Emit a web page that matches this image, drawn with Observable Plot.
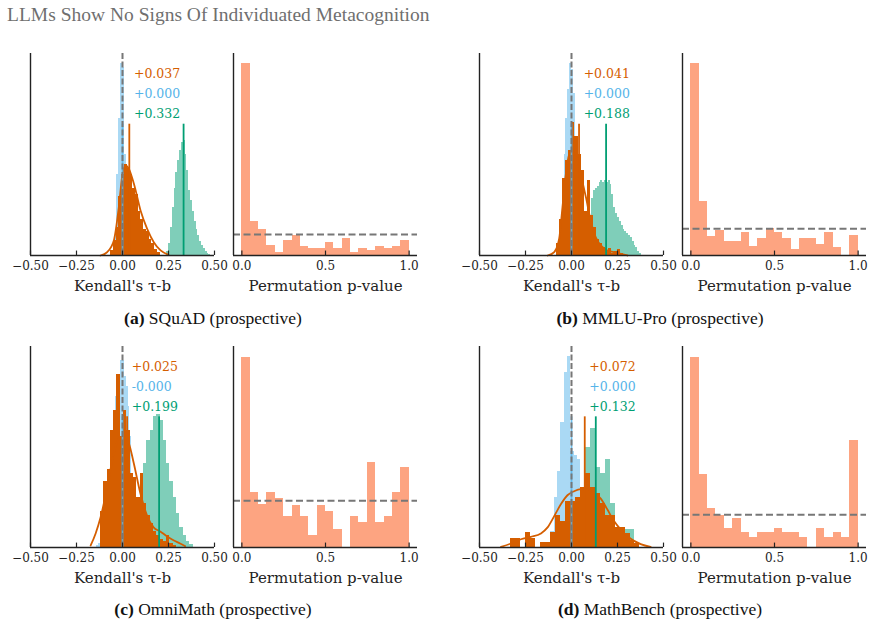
<!DOCTYPE html>
<html><head><meta charset="utf-8">
<script src="https://cdn.jsdelivr.net/npm/d3@7"></script>
<script src="https://cdn.jsdelivr.net/npm/@observablehq/plot@0.6"></script>
<style>
body{margin:0;background:#fff;}
#fig{position:relative;width:874px;height:629px;overflow:hidden;background:#fff;}
.title{position:absolute;left:7px;top:4.7px;font-family:"Liberation Serif",serif;font-size:19.5px;color:#6f6f6f;line-height:1;white-space:nowrap;}
.cap{position:absolute;width:400px;text-align:center;font-family:"Liberation Serif",serif;font-size:17.5px;line-height:1;color:#111;white-space:nowrap;}
</style></head><body><div id="fig"></div><script>
// ---------- data ----------
const chartTitle = "LLMs Show No Signs Of Individuated Metacognition";
const panelLetters = ["(a)", "(b)", "(c)", "(d)"];
const panelNames = ["SQuAD (prospective)", "MMLU-Pro (prospective)", "OmniMath (prospective)", "MathBench (prospective)"];
const kendallLabel = "Kendall's τ-b";
const pLabel = "Permutation p-value";

const kendallTicks = [-0.5, -0.25, 0, 0.25, 0.5];
const kendallTickLabels = ["−0.50", "−0.25", "0.00", "0.25", "0.50"];
const pTicks = [0, 0.5, 1];
const pTickLabels = ["0.0", "0.5", "1.0"];

const orangeMeans = [0.037, 0.041, 0.025, 0.072];
const blueMeans = [0.000, 0.000, -0.000, 0.000];
const greenMeans = [0.332, 0.188, 0.199, 0.132];
const orangeLabels = ["+0.037", "+0.041", "+0.025", "+0.072"];
const blueLabels = ["+0.000", "+0.000", "-0.000", "+0.000"];
const greenLabels = ["+0.332", "+0.188", "+0.199", "+0.132"];

// Kendall histograms: bin start, bin width, heights (fraction of axis height)
const blueStart = [-0.04, -0.07, -0.14, -0.13];
const blueWidth = [0.01, 0.01, 0.01, 0.018];
const blueA = [0.1, 0.4, 0.68, 0.95, 0.93, 0.5, 0.15, 0.03];
const blueB = [0.04, 0.12, 0.3, 0.5, 0.68, 0.82, 0.95, 0.92, 0.8, 0.55, 0.3, 0.12, 0.04];
const blueC = [0.01, 0.02, 0.04, 0.07, 0.1, 0.15, 0.22, 0.32, 0.45, 0.6, 0.75, 0.82, 0.85, 0.93, 0.93, 0.85, 0.8, 0.7, 0.55, 0.35, 0.18, 0.07, 0.02];
const blueD = [0.02, 0.08, 0.25, 0.38, 0.62, 0.87, 0.95, 0.48, 0.46, 0.44, 0.3, 0.15, 0.05];

const orangeStart = [-0.065, -0.08, -0.12, -0.33];
const orangeWidth = [0.015, 0.0165, 0.018, 0.027];
const orangeA = [0.025, 0.075, 0.14, 0.29, 0.40, 0.45, 0.43, 0.40, 0.33, 0.30, 0.22, 0.18, 0.13, 0.12, 0.08, 0.06, 0.03, 0.015];
const orangeB = [0.06, 0.18, 0.38, 0.47, 0.52, 0.66, 0.59, 0.5, 0.42, 0.22, 0.37, 0.2, 0.14, 0.08, 0.06, 0.04, 0.025, 0.033, 0.01, 0.02, 0.028, 0.01];
const orangeC = [0.18, 0.33, 0.39, 0.58, 0.68, 0.86, 0.55, 0.68, 0.58, 0.37, 0.35, 0.25, 0.37, 0.22, 0.16, 0.12, 0.08, 0.06, 0.04, 0.03, 0.06, 0.02, 0.01];
const orangeD = [0.045, 0.045, 0, 0.076, 0.045, 0, 0.023, 0.023, 0.076, 0.16, 0.13, 0.23, 0.23, 0.25, 0.3, 0.37, 0.3, 0.27, 0.22, 0.16, 0.16, 0.1, 0.1, 0.07, 0.036, 0.02];

const greenStart = [0.24, 0.10, 0.06, -0.006];
const greenWidth = [0.01, 0.01, 0.018, 0.027];
const greenA = [0.02, 0.06, 0.14, 0.24, 0.33, 0.41, 0.47, 0.52, 0.56, 0.57, 0.5, 0.42, 0.32, 0.27, 0.22, 0.17, 0.13, 0.1, 0.07, 0.05, 0.035, 0.02, 0.012, 0.005];
const greenB = [0.08, 0.28, 0.32, 0.33, 0.34, 0.36, 0.37, 0.36, 0.37, 0.36, 0.37, 0.35, 0.3, 0.24, 0.21, 0.19, 0.17, 0.15, 0.13, 0.12, 0.11, 0.1, 0.09, 0.07, 0.05, 0.04, 0.02, 0.01];
const greenC = [0.08, 0.25, 0.37, 0.42, 0.53, 0.58, 0.65, 0.66, 0.63, 0.53, 0.42, 0.33, 0.25, 0.17, 0.1, 0.06, 0.03, 0.015];
const greenD = [0.12, 0.2, 0.22, 0.5, 0.59, 0.4, 0.37, 0.44, 0.22, 0.09, 0.07, 0.09, 0.09];

// orange KDE curves (tau, fraction of axis height)
const kdeXA = [-0.12, -0.083, -0.047, -0.02, -0.002, 0.016, 0.034, 0.062, 0.098, 0.134, 0.17, 0.207, 0.25];
const kdeYA = [0.0, 0.017, 0.074, 0.24, 0.39, 0.446, 0.43, 0.355, 0.223, 0.132, 0.066, 0.025, 0.003];
const kdeXB = [-0.13, -0.094, -0.067, -0.049, -0.031, -0.013, 0.002, 0.024, 0.05, 0.078, 0.105, 0.132, 0.159, 0.195, 0.23, 0.268, 0.304];
const kdeYB = [0.0, 0.017, 0.083, 0.24, 0.4, 0.5, 0.52, 0.49, 0.4, 0.29, 0.17, 0.09, 0.05, 0.025, 0.017, 0.008, 0.0];
const kdeXC = [-0.173, -0.146, -0.119, -0.083, -0.047, -0.02, 0.007, 0.034, 0.061, 0.097, 0.133, 0.169, 0.205, 0.241, 0.277, 0.313, 0.34];
const kdeYC = [0.01, 0.07, 0.15, 0.3, 0.47, 0.54, 0.55, 0.52, 0.42, 0.27, 0.16, 0.1, 0.08, 0.056, 0.036, 0.02, 0.007];
const kdeXD = [-0.383, -0.329, -0.275, -0.221, -0.166, -0.13, -0.094, -0.058, -0.022, 0.014, 0.051, 0.087, 0.123, 0.159, 0.195, 0.231, 0.268, 0.304, 0.34, 0.376, 0.43];
const kdeYD = [0.003, 0.02, 0.041, 0.053, 0.07, 0.1, 0.156, 0.215, 0.26, 0.28, 0.29, 0.288, 0.273, 0.243, 0.189, 0.132, 0.089, 0.056, 0.033, 0.017, 0.003];

// permutation p-value histograms (20 bins of 0.05, fraction of axis height)
const pBinWidth = 0.05;
const pA = [0.95, 0.17, 0.13, 0.05, 0.015, 0.074, 0.1, 0.046, 0.036, 0.036, 0.063, 0.036, 0.083, 0.015, 0.036, 0.025, 0.046, 0.036, 0.046, 0.074];
const pB = [0.95, 0.268, 0.096, 0.124, 0.071, 0.071, 0.112, 0.045, 0.083, 0.136, 0.112, 0.083, 0.028, 0.083, 0.083, 0.055, 0.112, 0.041, 0, 0.099];
const pC = [0.947, 0.272, 0.215, 0.272, 0.243, 0.152, 0.21, 0.152, 0.058, 0.21, 0.18, 0.089, 0, 0.152, 0.123, 0.425, 0.123, 0.152, 0.272, 0.396];
const pD = [0.947, 0.364, 0.194, 0.161, 0.094, 0.144, 0.073, 0.048, 0.073, 0.073, 0.094, 0.073, 0.073, 0.048, 0, 0.094, 0.048, 0.073, 0.048, 0.533];

// ---------- styling / layout ----------
const ORANGE = "#d55e00", BLUE = "#56b4e9", GREEN = "#009e73", SALMON = "#fda481", AX = "#222";
const FONT = "DejaVu Serif";
const rowTop = [53, 346], rowH = [202, 201];
const kLeft = [30, 478.5], pLeft = [232.5, 682], axW = 184;
const M = {l: 45, r: 45, t: 12, b: 50};
const capCenter = [213, 660], capBaseline = [325, 616];

const blues = [blueA, blueB, blueC, blueD];
const oranges = [orangeA, orangeB, orangeC, orangeD];
const greens = [greenA, greenB, greenC, greenD];
const kdeX = [kdeXA, kdeXB, kdeXC, kdeXD], kdeY = [kdeYA, kdeYB, kdeYC, kdeYD];
const pvals = [pA, pB, pC, pD];

const fig = document.getElementById("fig");
const bins = (start, w, hs) => hs.map((h, i) => ({x1: start + i * w, x2: start + (i + 1) * w, h}));

function place(svg, left, top) {
  svg.style.position = "absolute";
  svg.style.left = (left - M.l) + "px";
  svg.style.top = (top - M.t) + "px";
  svg.style.overflow = "visible";
  svg.style.background = "transparent";
  svg.style.maxWidth = "none";
  fig.appendChild(svg);
}

function axisMarks(ticks, labels, xmin, label) {
  return [
    Plot.ruleY([0], {stroke: AX, strokeWidth: 1.4}),
    Plot.ruleX([xmin], {stroke: AX, strokeWidth: 1.4}),
    Plot.ruleX(ticks, {x: d => d, y1: 0, y2: 0.022, stroke: AX, strokeWidth: 1.2}),
    Plot.text(ticks, {x: d => d, y: 0, text: (d, i) => labels[i], dy: 14, lineAnchor: "bottom", fontSize: 12, fill: AX}),
    Plot.text([label], {frameAnchor: "bottom", text: d => d, dy: 35.5, lineAnchor: "bottom", fontSize: 15, fill: AX})
  ];
}

const title = document.createElement("div");
title.className = "title";
title.textContent = chartTitle;
fig.appendChild(title);

const barOpts = {x1: "x1", x2: "x2", y1: 0, y2: "h", shapeRendering: "crispEdges"};

for (let k = 0; k < 4; k++) {
  const r = Math.floor(k / 2), c = k % 2;
  const H = rowH[r];
  const kde = kdeX[k].map((x, i) => ({x, y: kdeY[k][i]}));
  const tx = orangeMeans[k] + 0.025;
  const kend = Plot.plot({
    width: axW + M.l + M.r, height: H + M.t + M.b,
    marginLeft: M.l, marginRight: M.r, marginTop: M.t, marginBottom: M.b,
    x: {domain: [-0.5, 0.5], axis: null},
    y: {domain: [0, 1], axis: null},
    style: {fontFamily: FONT, background: "transparent", overflow: "visible"},
    marks: [
      Plot.rect(bins(blueStart[k], blueWidth[k], blues[k]), {...barOpts, fill: BLUE, fillOpacity: 0.5}),
      Plot.rect(bins(greenStart[k], greenWidth[k], greens[k]), {...barOpts, fill: GREEN, fillOpacity: 0.5}),
      Plot.rect(bins(orangeStart[k], orangeWidth[k], oranges[k]), {...barOpts, fill: ORANGE}),
      Plot.line(kde, {x: "x", y: "y", stroke: ORANGE, strokeWidth: 1.8, curve: "monotone-x"}),
      Plot.ruleX([blueMeans[k]], {x: d => d, y1: 0, y2: 0.65, stroke: BLUE, strokeWidth: 1.8, strokeOpacity: 0.85}),
      Plot.ruleX([orangeMeans[k]], {x: d => d, y1: 0, y2: 0.65, stroke: ORANGE, strokeWidth: 1.8}),
      Plot.ruleX([greenMeans[k]], {x: d => d, y1: 0, y2: 0.65, stroke: GREEN, strokeWidth: 1.8}),
      Plot.ruleX([0], {stroke: "#777", strokeWidth: 2, strokeDasharray: "6,2.5"}),
      ...axisMarks(kendallTicks, kendallTickLabels, -0.5, kendallLabel),
      Plot.text([orangeLabels[k]], {x: tx, y: 0.9, text: d => d, textAnchor: "start", fontSize: 12.5, fill: ORANGE}),
      Plot.text([blueLabels[k]], {x: tx, y: 0.8, text: d => d, textAnchor: "start", fontSize: 12.5, fill: BLUE}),
      Plot.text([greenLabels[k]], {x: tx, y: 0.7, text: d => d, textAnchor: "start", fontSize: 12.5, fill: GREEN})
    ]
  });
  place(kend, kLeft[c], rowTop[r]);

  const pb = pvals[k].map((h, i) => ({x1: i * pBinWidth, x2: (i + 1) * pBinWidth, h}));
  const pplot = Plot.plot({
    width: axW + M.l + M.r, height: H + M.t + M.b,
    marginLeft: M.l, marginRight: M.r, marginTop: M.t, marginBottom: M.b,
    x: {domain: [-0.05, 1.05], axis: null},
    y: {domain: [0, 1], axis: null},
    style: {fontFamily: FONT, background: "transparent", overflow: "visible"},
    marks: [
      Plot.rect(pb, {...barOpts, fill: SALMON}),
      Plot.ruleY([d3.mean(pvals[k])], {y: d => d, stroke: "#777", strokeWidth: 2, strokeDasharray: "7,3.5"}),
      ...axisMarks(pTicks, pTickLabels, -0.05, pLabel)
    ]
  });
  place(pplot, pLeft[c], rowTop[r]);

  const cap = document.createElement("div");
  cap.className = "cap";
  cap.style.left = (capCenter[c] - 200) + "px";
  cap.style.top = (capBaseline[r] - 14.7) + "px";
  const b = document.createElement("b");
  b.textContent = panelLetters[k];
  cap.appendChild(b);
  cap.appendChild(document.createTextNode(" " + panelNames[k]));
  fig.appendChild(cap);
}
</script></body></html>
